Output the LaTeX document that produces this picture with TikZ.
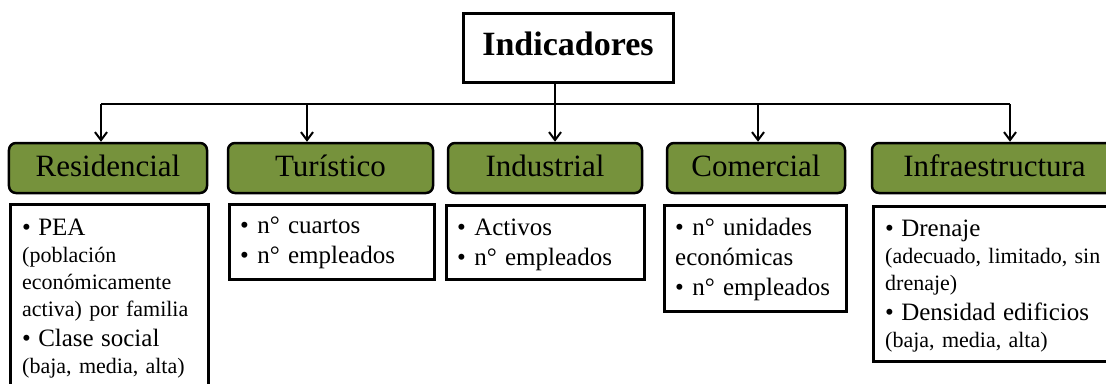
\documentclass[tikz,border=0pt]{standalone}
\usepackage{fontspec}
\setmainfont{Liberation Serif}
\usetikzlibrary{arrows.meta}
\definecolor{olivegreen}{HTML}{76923C}
\newcommand{\bsz}{\fontsize{25bp}{30bp}\selectfont}
\newcommand{\ssz}{\fontsize{22bp}{27bp}\selectfont}
\begin{document}
\begin{tikzpicture}[x=1bp,y=-1bp,
  topbox/.style={draw=black, line width=3bp, fill=white, minimum width=210bp, minimum height=69bp, inner sep=0pt, font=\bfseries\fontsize{34bp}{40bp}\selectfont, text height=23bp, text depth=7bp},
  greenbox/.style={draw=black, line width=2.5bp, rounded corners=7bp, fill=olivegreen, minimum width=#1, minimum height=50bp, inner sep=0pt, font=\fontsize{31bp}{36bp}\selectfont, text height=22bp, text depth=6bp},
  whitebox/.style={draw=black, line width=2.5bp, fill=white, anchor=north west, inner sep=0pt},
  itemtxt/.style={anchor=base west, inner sep=0pt, text width=260bp, align=left},
  conn/.style={draw=black, line width=2bp},
  arr/.style={conn, -{Straight Barb[length=8bp,width=12bp,line width=2bp]}}
]
\useasboundingbox (0,0) rectangle (1106,383);
\clip (0,0) rectangle (1106,383);

% top
\node[topbox] (ind) at (568,47.5) {Indicadores};

% category boxes
\node[greenbox=198bp] (res) at (108,168) {Residencial};
\node[greenbox=205bp] (tur) at (330.5,168) {Turístico};
\node[greenbox=194bp] (indu) at (545,168) {Industrial};
\node[greenbox=178bp] (com) at (756,168) {Comercial};
\node[greenbox=245bp] (inf) at (994.5,168) {Infraestructura};

% detail boxes
\node[whitebox, minimum width=198bp, minimum height=190bp] (resb) at (9,203) {};
\node[whitebox, minimum width=205bp, minimum height=75bp] (turb) at (228,203) {};
\node[whitebox, minimum width=198bp, minimum height=74bp] (indb) at (445,204) {};
\node[whitebox, minimum width=182bp, minimum height=106bp] (comb) at (663,204) {};
\node[whitebox, minimum width=245bp, minimum height=155bp] (infb) at (872,205) {};

\node[itemtxt, font=\ssz] (rest) at (22,235) {{\bsz • PEA}\\(población\\económicamente\\activa) por familia\\[3bp]{\bsz • Clase social}\\(baja, media, alta)};
\node[itemtxt, font=\bsz] (turt) at (240,233) {• n° cuartos\\• n° empleados};
\node[itemtxt, font=\bsz] (indt) at (457,235) {• Activos\\• n° empleados};
\node[itemtxt, font=\bsz] (comt) at (675,235) {• n° unidades\\económicas\\• n° empleados};
\node[itemtxt, font=\ssz] (inft) at (885,236) {{\bsz • Drenaje}\\(adecuado, limitado, sin\\drenaje)\\[3bp]{\bsz • Densidad edificios}\\(baja, media, alta)};

% connectors
\coordinate (bus) at (555,104);
\coordinate (jres) at (101,104);
\coordinate (jtur) at (307,104);
\coordinate (jcom) at (758,104);
\coordinate (jinf) at (1010,104);
\draw[conn] (jres) -- (jinf);
\draw[arr] (bus |- ind.south) -- (bus |- indu.north);
\draw[arr] (jres) -- (jres |- res.north);
\draw[arr] (jtur) -- (jtur |- tur.north);
\draw[arr] (jcom) -- (jcom |- com.north);
\draw[arr] (jinf) -- (jinf |- inf.north);
\end{tikzpicture}
\end{document}
